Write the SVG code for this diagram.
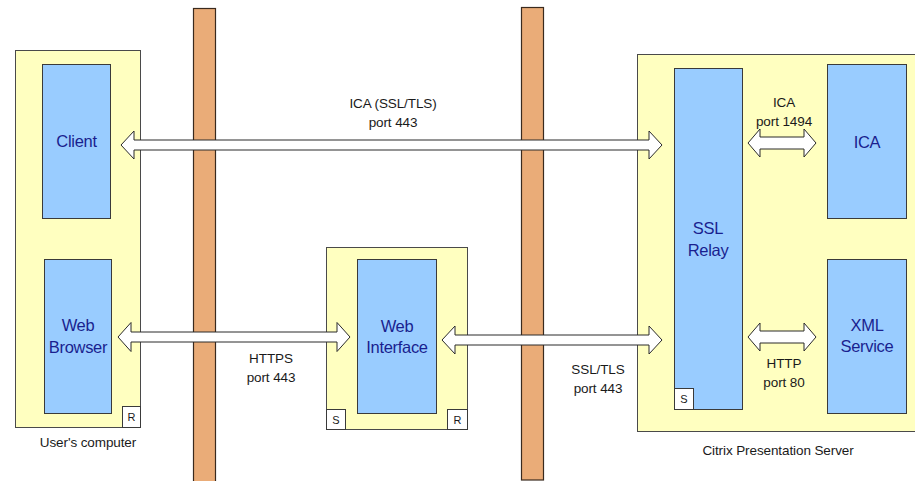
<svg xmlns="http://www.w3.org/2000/svg" width="915" height="481" viewBox="0 0 915 481">
  <style>
    .host { fill: #FFFFC0; stroke: #4A4A4A; stroke-width: 1; }
    .comp { fill: #99CCFF; stroke: #3A3A3A; stroke-width: 1; }
    .tag { fill: #FFFFFF; stroke: #3A3A3A; stroke-width: 1; }
    .wall { fill: #EAAC78; stroke: #3A2A1E; stroke-width: 1.2; }
    .pipe { fill: #FFFFFF; stroke: #2A2A2A; stroke-width: 1; stroke-linejoin: miter; }
    .name { font-family: "Liberation Sans", Arial, sans-serif; font-size: 16.5px; fill: #1A1F8F; text-anchor: middle; letter-spacing: -0.3px; }
    .label { font-family: "Liberation Sans", Arial, sans-serif; font-size: 13.5px; fill: #1A1A1A; text-anchor: middle; letter-spacing: -0.1px; }
    .mark { font-family: "Liberation Sans", Arial, sans-serif; font-size: 11px; fill: #1A1A1A; text-anchor: middle; }
  </style>

  <!-- firewalls -->
  <g id="firewall-1"><rect class="wall" x="193.5" y="8.5" width="22" height="475"/></g>
  <g id="firewall-2"><rect class="wall" x="521.5" y="7.5" width="22" height="472.5"/></g>

  <!-- user's computer -->
  <g id="users-computer">
    <rect class="host" x="15.5" y="50.5" width="125" height="377"/>
    <rect class="tag" x="122.5" y="406.5" width="18" height="21"/>
    <text class="mark" x="131.5" y="421">R</text>
    <text class="label" x="88" y="447">User's computer</text>
  </g>
  <g id="client">
    <rect class="comp" x="42.5" y="64.5" width="68" height="154"/>
    <text class="name" x="76.5" y="147">Client</text>
  </g>
  <g id="web-browser">
    <rect class="comp" x="44.5" y="259.5" width="67" height="154"/>
    <text class="name" x="78" y="331">Web</text>
    <text class="name" x="78" y="353">Browser</text>
  </g>

  <!-- web server -->
  <g id="web-server">
    <rect class="host" x="326.5" y="247.5" width="141" height="182"/>
    <rect class="tag" x="326.5" y="409.5" width="19" height="20"/>
    <text class="mark" x="336" y="423.5">S</text>
    <rect class="tag" x="447.5" y="409.5" width="20" height="20"/>
    <text class="mark" x="457.5" y="423.5">R</text>
  </g>
  <g id="web-interface">
    <rect class="comp" x="357.5" y="259.5" width="79" height="154"/>
    <text class="name" x="397" y="332">Web</text>
    <text class="name" x="397" y="353">Interface</text>
  </g>

  <!-- citrix presentation server -->
  <g id="presentation-server">
    <rect class="host" x="637.5" y="54.5" width="290" height="377"/>
    <text class="label" x="778" y="455">Citrix Presentation Server</text>
  </g>
  <g id="ssl-relay">
    <rect class="comp" x="674.5" y="68.5" width="68" height="341"/>
    <rect class="tag" x="674.5" y="388.5" width="19" height="21"/>
    <text class="mark" x="684" y="403">S</text>
    <text class="name" x="708" y="234">SSL</text>
    <text class="name" x="708" y="256">Relay</text>
  </g>
  <g id="ica">
    <rect class="comp" x="827.5" y="64.5" width="79" height="154"/>
    <text class="name" x="867" y="148">ICA</text>
  </g>
  <g id="xml-service">
    <rect class="comp" x="827.5" y="259.5" width="79" height="154"/>
    <text class="name" x="867" y="331">XML</text>
    <text class="name" x="867" y="352">Service</text>
  </g>

  <!-- connectors -->
  <g id="connectors">
    <polygon class="pipe" points="121,145 134,131 134,140 649,140 649,131 662,145 649,159 649,150 134,150 134,159"/>
    <text class="label" x="393" y="108">ICA (SSL/TLS)</text>
    <text class="label" x="393" y="127">port 443</text>

    <polygon class="pipe" points="118,337 131,322.5 131,332 337,332 337,322.5 350,337 337,351.5 337,342 131,342 131,351.5"/>
    <text class="label" x="271" y="363">HTTPS</text>
    <text class="label" x="271" y="382">port 443</text>

    <polygon class="pipe" points="442,340 455,326 455,335 649,335 649,326 662,340 649,354 649,345 455,345 455,354"/>
    <text class="label" x="598" y="374">SSL/TLS</text>
    <text class="label" x="598" y="393">port 443</text>

    <polygon class="pipe" points="748,143 760,129 760,137 804,137 804,129 816,143 804,157 804,149 760,149 760,157"/>
    <text class="label" x="784" y="107">ICA</text>
    <text class="label" x="784" y="126">port 1494</text>

    <polygon class="pipe" points="748,337 760,323 760,331 804,331 804,323 816,337 804,351 804,343 760,343 760,351"/>
    <text class="label" x="784" y="368">HTTP</text>
    <text class="label" x="784" y="387">port 80</text>
  </g>
</svg>
